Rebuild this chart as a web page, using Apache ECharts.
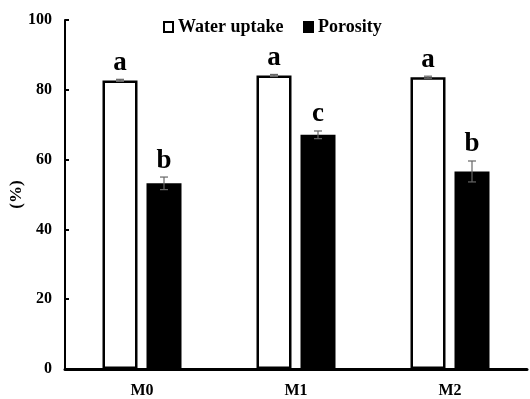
<!DOCTYPE html>
<html>
<head>
<meta charset="utf-8">
<script src="https://cdn.jsdelivr.net/npm/echarts@6/dist/echarts.min.js"></script>
<style>
  html, body { margin: 0; padding: 0; background: #fff; }
  #chart { width: 530px; height: 399px; }
</style>
</head>
<body>
<div id="chart"></div>
<script>
// Samples and measured values (%)
const categories = ['M0', 'M1', 'M2'];
const seriesNames = ['Water uptake', 'Porosity'];
const waterUptake = [82.7, 84.1, 83.6];
const waterUptakeErr = [0.3, 0.3, 0.3];
const waterLetters = ['a', 'a', 'a'];
const porosity = [53.2, 67.1, 56.6];
const porosityErr = [1.8, 1.1, 3.0];
const porosityLetters = ['b', 'c', 'b'];
const yTicks = [0, 20, 40, 60, 80, 100];

const FONT = '"Liberation Serif", "Times New Roman", serif';
const BAR_W = 35;
const BAR_GAP_PX = 9;

// error bar + significance letter drawn over one bar series
function errorSeries(values, errs, letters, side) {
  const data = values.map((v, i) => [i, v, errs[i]]);
  return {
    type: 'custom',
    z: 10,
    silent: true,
    data: data,
    renderItem: function (params, api) {
      const idx = api.value(0);
      const v = api.value(1);
      const e = api.value(2);
      const letter = letters[idx];
      const shift = side * (BAR_W + BAR_GAP_PX) / 2;
      const top = api.coord([idx, v + e]);
      const bot = api.coord([idx, v - e]);
      const x = top[0] + shift;
      const cap = 4;
      const st = { stroke: '#666', lineWidth: 1.2 };
      return {
        type: 'group',
        children: [
          { type: 'line', shape: { x1: x, y1: top[1], x2: x, y2: bot[1] }, style: st },
          { type: 'line', shape: { x1: x - cap, y1: top[1], x2: x + cap, y2: top[1] }, style: st },
          { type: 'line', shape: { x1: x - cap, y1: bot[1], x2: x + cap, y2: bot[1] }, style: st },
          {
            type: 'text',
            style: {
              x: x, y: top[1] - 3,
              text: letter,
              align: 'center', verticalAlign: 'bottom',
              font: 'bold 27px ' + FONT,
              fill: '#000'
            }
          }
        ]
      };
    }
  };
}

// legend key: swatch + bold label for each series
function legendEntry(x, name, fill) {
  return {
    type: 'group',
    left: x,
    top: 18,
    children: [
      { type: 'rect', shape: { x: 0, y: 1, width: 9, height: 10 },
        style: { fill: fill, stroke: '#000', lineWidth: 2 } },
      { type: 'text', x: 14, y: 6,
        style: { text: name, font: 'bold 18px ' + FONT, fill: '#000', verticalAlign: 'middle' } }
    ]
  };
}

const chart = echarts.init(document.getElementById('chart'), null, { renderer: 'canvas' });
chart.setOption({
  animation: false,
  backgroundColor: '#fff',
  textStyle: { fontFamily: FONT, fontWeight: 'bold' },
  graphic: [
    legendEntry(163, seriesNames[0], '#fff'),
    legendEntry(303, seriesNames[1], '#000')
  ],
  grid: { left: 65, right: 3, top: 20, bottom: 30, outerBoundsMode: 'none', containLabel: false },
  xAxis: {
    type: 'category',
    data: categories,
    axisLine: { lineStyle: { color: '#000', width: 3 } },
    axisTick: { show: false },
    axisLabel: { color: '#000', fontFamily: FONT, fontWeight: 'bold', fontSize: 16, margin: 14 }
  },
  yAxis: {
    type: 'value',
    min: 0, max: 100, interval: 20,
    name: '(%)',
    nameLocation: 'middle',
    nameRotate: 90,
    nameGap: 40,
    nameMoveOverlap: false,
    nameTextStyle: { color: '#000', fontFamily: FONT, fontWeight: 'bold', fontSize: 17 },
    axisLine: { show: true, lineStyle: { color: '#000', width: 2 } },
    axisTick: { show: true, inside: true, length: 4, lineStyle: { color: '#000', width: 2 } },
    splitLine: { show: false },
    axisLabel: {
      color: '#000', fontFamily: FONT, fontWeight: 'bold', fontSize: 16, margin: 13,
      formatter: v => (yTicks.includes(v) ? String(v) : '')
    }
  },
  series: [
    {
      name: seriesNames[0],
      type: 'bar',
      data: waterUptake,
      barWidth: BAR_W,
      barGap: (BAR_GAP_PX / BAR_W * 100) + '%',
      itemStyle: { color: '#fff', borderColor: '#000', borderWidth: 2.5 }
    },
    {
      name: seriesNames[1],
      type: 'bar',
      data: porosity,
      barWidth: BAR_W,
      itemStyle: { color: '#000' }
    },
    errorSeries(waterUptake, waterUptakeErr, waterLetters, -1),
    errorSeries(porosity, porosityErr, porosityLetters, 1)
  ]
});
</script>
</body>
</html>
